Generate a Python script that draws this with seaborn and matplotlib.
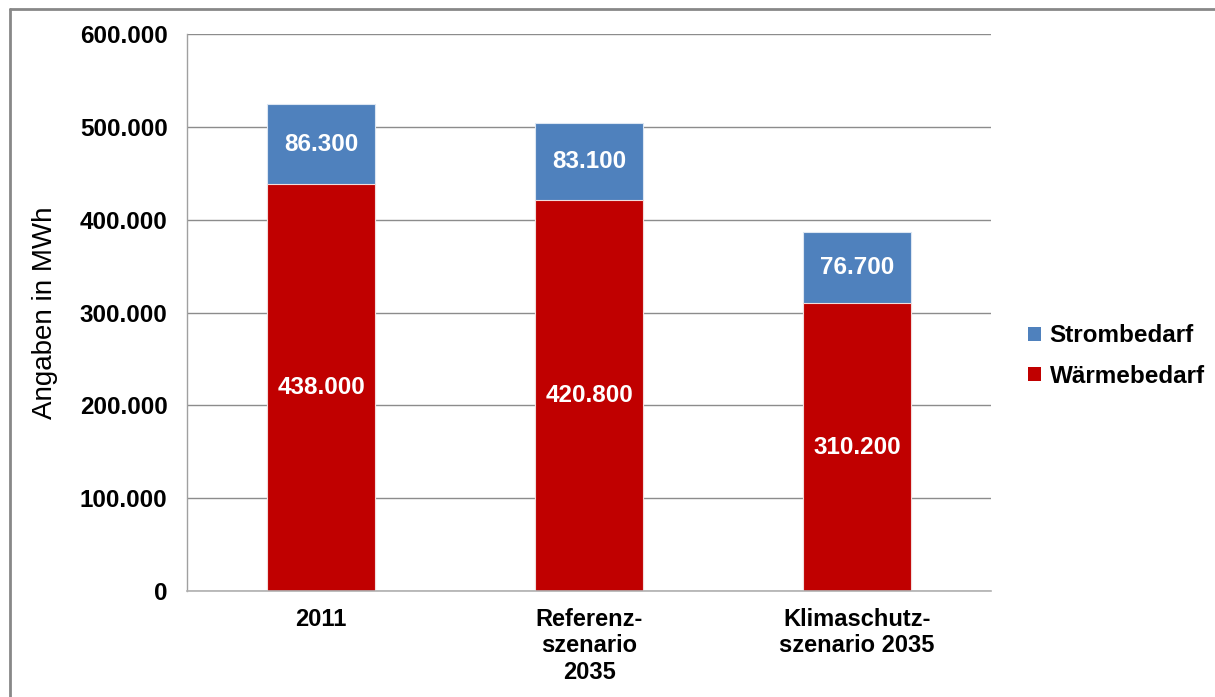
import matplotlib
matplotlib.use("Agg")
import matplotlib.pyplot as plt
import seaborn as sns
import numpy as np
from matplotlib.lines import Line2D
from matplotlib.patches import Patch
from matplotlib.ticker import FuncFormatter, MultipleLocator, FixedLocator

# Energy demand per scenario (MWh)
categories = ["2011", "Referenz-\nszenario\n2035", "Klimaschutz-\nszenario 2035"]
waerme = [438000, 420800, 310200]
strom = [86300, 83100, 76700]
series_names = ["Strombedarf", "Wärmebedarf"]

BLUE = "#4F81BD"
RED = "#C00000"
GRID = "#8c8c8c"

sns.set_theme(style="white")
plt.rcParams["font.family"] = ["Liberation Sans", "DejaVu Sans"]

fig = plt.figure(figsize=(12.15, 6.97), dpi=100)
ax = fig.add_axes([187 / 1215, 1 - 591 / 697, (991 - 187) / 1215, (591 - 34) / 697])

totals = [w + s for w, s in zip(waerme, strom)]
x = list(range(len(categories)))

# stacked bars: total (blue) first, heat demand (red) drawn over it
sns.barplot(x=x, y=totals, color=BLUE, width=0.4, ax=ax, saturation=1,
            edgecolor="#dce6f2", linewidth=0.8, native_scale=True)
sns.barplot(x=x, y=waerme, color=RED, width=0.4, ax=ax, saturation=1,
            edgecolor="#f2dcdb", linewidth=0.8, native_scale=True)

ax.set_xlim(-0.5, 2.5)
ax.set_ylim(0, 600000)
ax.yaxis.set_major_locator(MultipleLocator(100000))
ax.yaxis.set_major_formatter(FuncFormatter(lambda v, p: f"{int(v):,}".replace(",", ".")))
ax.grid(axis="y", color=GRID, linewidth=1)
ax.set_axisbelow(True)

ax.xaxis.set_major_locator(FixedLocator(x))
ax.set_xticklabels(categories, fontsize=17, fontweight="bold", color="black",
                   linespacing=1.2, va="top")
ax.xaxis.set_minor_locator(FixedLocator([-0.5, 0.5, 1.5, 2.5]))
ax.tick_params(axis="x", which="major", length=0, pad=12)
ax.tick_params(axis="x", which="minor", length=6, width=1, color="#b0b0b0", direction="out")
ax.tick_params(axis="y", which="major", length=8, width=1, color=GRID, direction="out",
               labelsize=17.5, pad=6)
for lbl in ax.get_yticklabels():
    lbl.set_fontweight("bold")
    lbl.set_color("black")

for side in ["top", "right"]:
    ax.spines[side].set_visible(False)
ax.spines["left"].set_color("#a0a0a0")
ax.spines["bottom"].set_color("#b0b0b0")
ax.spines["left"].set_linewidth(1)
ax.spines["bottom"].set_linewidth(1.2)

ax.set_ylabel("Angaben in MWh", fontsize=20, color="black", labelpad=16)
ax.set_xlabel("")

def fmt(v):
    return f"{int(v):,}".replace(",", ".")

for i in x:
    ax.text(i, waerme[i] / 2, fmt(waerme[i]), ha="center", va="center",
            color="white", fontsize=17.5, fontweight="bold")
    ax.text(i, waerme[i] + strom[i] / 2, fmt(strom[i]), ha="center", va="center",
            color="white", fontsize=17.5, fontweight="bold")

handles = [Patch(facecolor=BLUE, edgecolor="none"), Patch(facecolor=RED, edgecolor="none")]
fig.legend(handles, series_names, loc="center left", bbox_to_anchor=(1006 / 1215, 1 - 356 / 697),
           frameon=False, prop={"size": 17.5, "weight": "bold"}, labelcolor="black",
           handlelength=0.55, handleheight=0.55, handletextpad=0.35, labelspacing=0.7)

# outer frame lines (left and top)
fig.add_artist(Line2D([10.5 / 1215, 10.5 / 1215], [0, 1 - 9 / 697], color="#888888", linewidth=2,
                      transform=fig.transFigure))
fig.add_artist(Line2D([10 / 1215, 1], [1 - 9 / 697, 1 - 9 / 697], color="#888888", linewidth=2,
                      transform=fig.transFigure))

fig.savefig("out.png", dpi=100, facecolor="white")
